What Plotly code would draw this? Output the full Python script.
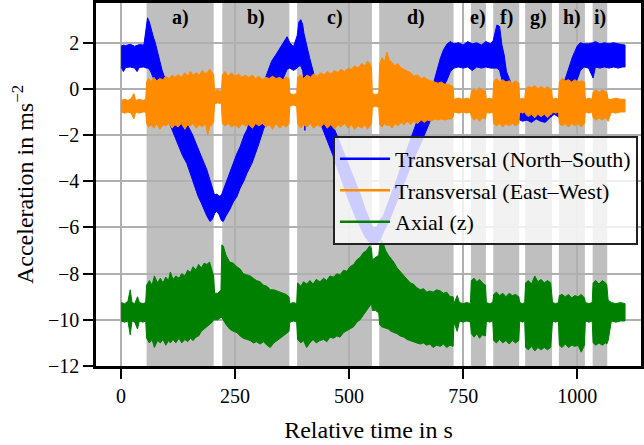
import plotly.graph_objects as go

# ---------------- data ----------------
SEGMENT_LABELS = ["a)", "b)", "c)", "d)", "e)", "f)", "g)", "h)", "i)"]
SEGMENT_START = [56, 222, 386, 566, 767, 816, 886, 960, 1034]
SEGMENT_END = [203, 369, 550, 729, 800, 873, 945, 1017, 1066]

SERIES_NAMES = ["Transversal (North\u2013South)", "Transversal (East\u2013West)", "Axial (z)"]
SERIES_COLORS = ["#0000ff", "#ff8c00", "#008000"]

# envelopes of the dense signals: (time s, lower, upper) in m/s^2
NS_ENV = [
    (0, 0.95, 1.85), (5, 0.75, 1.9), (10, 0.92, 1.88), (20, 0.95, 1.93), (30, 0.9, 1.85),
    (35, 0.75, 1.9), (40, 0.93, 1.92), (50, 0.95, 1.9), (55, 0.9, 2.6), (58, 0.9, 3.08),
    (62, 0.85, 2.9), (66, 0.7, 2.55), (70, 0.5, 2.3), (75, 0.25, 2.0), (80, 0.0, 1.6),
    (85, -0.3, 1.2), (90, -0.6, 0.8), (100, -1.2, 0.25), (111, -1.77, -0.25), (120, -2.2, -0.6),
    (127, -2.5, -0.85), (135, -2.9, -1.15), (144, -3.22, -1.45), (151, -3.6, -1.77), (157, -4.0, -2.0),
    (163, -4.3, -2.3), (169, -4.66, -2.6), (176, -4.95, -2.95), (182, -5.2, -3.22), (188, -5.5, -3.5),
    (195, -5.74, -3.95), (200, -5.65, -4.3), (205, -5.4, -4.6), (210, -5.3, -4.55), (215, -5.45, -4.65),
    (220, -5.7, -4.6), (224, -5.74, -4.4), (230, -5.5, -4.05), (239, -5.2, -3.6), (246, -4.9, -3.22),
    (254, -4.66, -2.8), (261, -4.3, -2.5), (270, -3.95, -2.0), (276, -3.65, -1.77), (287, -3.22, -1.1),
    (300, -2.5, -0.4), (312, -1.77, 0.2), (320, -1.3, 0.7), (330, -0.8, 1.2), (340, -0.3, 1.5),
    (350, 0.2, 1.8), (358, 0.6, 2.05), (364, 0.85, 2.26), (370, 0.9, 2.0), (378, 0.8, 1.83),
    (386, 0.9, 2.3), (390, 1.0, 2.9), (394, 1.0, 3.0), (398, 0.8, 2.8), (401, 0.4, 2.4),
    (403, -1.8, 2.2), (405, 0.2, 2.0), (408, 0.0, 1.8), (414, -0.3, 1.3), (420, -0.6, 0.8),
    (430, -1.0, 0.1), (436, -1.43, -0.3), (445, -1.9, -0.75), (455, -2.4, -1.2), (465, -2.9, -1.6),
    (475, -3.5, -2.1), (485, -4.0, -2.6), (495, -4.6, -3.1), (505, -5.1, -3.6), (515, -5.6, -4.1),
    (525, -6.0, -4.6), (535, -6.4, -5.2), (545, -6.65, -5.7), (552, -6.7, -6.0), (560, -6.7, -6.0),
    (567, -6.6, -5.7), (575, -6.2, -5.5), (590, -5.6, -4.7), (605, -4.9, -3.9), (620, -4.1, -3.0),
    (630, -3.6, -2.42), (640, -3.1, -1.9), (649, -2.7, -1.41), (656, -2.42, -1.0), (665, -2.0, -0.6),
    (678, -1.41, 0.0), (684, -1.1, 0.17), (692, -0.7, 0.75), (700, -0.3, 1.33), (707, 0.1, 1.7),
    (715, 0.4, 1.95), (722, 0.75, 2.05), (730, 0.9, 1.95), (740, 0.95, 2.0), (750, 0.9, 1.9),
    (760, 0.95, 2.05), (770, 0.8, 1.95), (780, 0.95, 2.0), (790, 0.9, 1.9), (800, 0.95, 2.05),
    (810, 0.9, 1.95), (816, 0.9, 2.1), (820, 0.9, 2.5), (824, 0.9, 2.77), (830, 0.8, 2.7),
    (835, 0.5, 1.9), (840, 0.0, 1.47), (845, -0.4, 0.75), (852, -0.8, 0.4), (860, -1.1, 0.0),
    (870, -1.3, -0.4), (880, -1.4, -0.6), (890, -1.35, -0.6), (900, -1.45, -0.7), (910, -1.3, -0.65),
    (920, -1.4, -0.6), (930, -1.45, -0.7), (940, -1.25, -0.6), (950, -1.1, -0.55), (958, -1.2, -0.5),
    (965, -1.3, -0.1), (972, -1.0, 0.3), (980, -0.6, 0.8), (990, -0.1, 1.4), (1000, 0.4, 1.85),
    (1007, 0.8, 2.0), (1015, 0.95, 1.95), (1025, 0.9, 1.95), (1035, 0.47, 2.0), (1040, 0.95, 2.05),
    (1050, 0.9, 1.95), (1060, 0.95, 2.0), (1070, 0.9, 1.95), (1080, 0.95, 2.0), (1090, 0.9, 1.95),
    (1100, 0.95, 1.9), (1105, 0.95, 1.9),
]

EW_ENV = [
    (0, -1.0, -0.5), (8, -1.05, -0.45), (15, -1.0, -0.5), (22, -1.05, -0.42), (28, -1.3, -0.2),
    (32, -1.0, -0.5), (40, -1.05, -0.45), (48, -1.0, -0.5), (54, -1.0, -0.45),
    (56, -1.5, 0.3), (60, -1.65, 0.45), (66, -1.55, 0.3), (72, -1.7, 0.5), (78, -1.5, 0.35),
    (85, -1.75, 0.45), (92, -1.55, 0.4), (98, -1.6, 0.55), (105, -1.5, 0.45), (112, -1.7, 0.6),
    (118, -1.55, 0.5), (125, -1.65, 0.62), (132, -1.5, 0.5), (140, -1.75, 0.7), (146, -1.55, 0.55),
    (152, -1.6, 0.75), (158, -1.5, 0.6), (165, -1.7, 0.7), (172, -1.55, 0.6), (178, -1.65, 0.8),
    (185, -1.5, 0.65), (190, -2.0, 0.75), (195, -1.6, 0.85), (200, -1.55, 0.7), (203, -1.4, 0.6),
    (205, -0.65, -0.1), (212, -0.6, -0.05), (220, -0.65, -0.1),
    (222, -1.5, 0.6), (228, -1.6, 0.75), (235, -1.5, 0.55), (242, -1.65, 0.7), (250, -1.55, 0.55),
    (258, -1.7, 0.65), (265, -1.5, 0.5), (272, -1.6, 0.6), (280, -1.55, 0.5), (288, -1.7, 0.6),
    (295, -1.5, 0.45), (302, -1.6, 0.55), (310, -1.5, 0.4), (318, -1.65, 0.5), (325, -1.55, 0.45),
    (332, -1.75, 0.55), (340, -1.5, 0.45), (348, -1.7, 0.5), (355, -1.55, 0.4), (362, -1.65, 0.5),
    (368, -1.5, 0.45),
    (370, -0.75, -0.2), (378, -0.7, -0.25), (385, -0.75, -0.2),
    (387, -1.5, 0.5), (394, -1.7, 0.6), (400, -1.55, 0.45), (408, -1.65, 0.6), (415, -1.5, 0.5),
    (422, -1.7, 0.65), (430, -1.55, 0.55), (438, -1.65, 0.7), (445, -1.5, 0.6), (452, -1.7, 0.75),
    (460, -1.55, 0.65), (468, -1.75, 0.8), (475, -1.55, 0.7), (482, -1.65, 0.85), (490, -1.5, 0.75),
    (498, -1.7, 0.9), (505, -1.55, 0.85), (512, -1.75, 1.0), (520, -1.6, 0.9), (527, -1.7, 1.1),
    (535, -1.55, 1.0), (540, -1.75, 1.2), (546, -1.6, 1.1), (549, -1.5, 0.9),
    (551, -0.8, -0.2), (558, -0.75, -0.25), (565, -0.8, -0.2),
    (567, -1.55, 1.1), (572, -1.65, 1.35), (578, -1.5, 1.2), (583, -1.6, 1.6), (588, -1.55, 1.25),
    (594, -1.7, 1.15), (600, -1.5, 1.0), (607, -1.6, 1.1), (614, -1.45, 0.9), (620, -1.55, 0.85),
    (628, -1.4, 0.75), (635, -1.55, 0.7), (642, -1.4, 0.55), (650, -1.5, 0.6), (658, -1.35, 0.45),
    (665, -1.45, 0.5), (672, -1.35, 0.4), (680, -1.4, 0.35), (688, -1.3, 0.3), (695, -1.35, 0.25),
    (702, -1.3, 0.3), (710, -1.35, 0.2), (718, -1.3, 0.2), (725, -1.3, 0.15), (728, -1.2, 0.1),
    (730, -1.0, -0.45), (740, -1.05, -0.4), (750, -1.0, -0.45), (758, -1.05, -0.4), (766, -1.0, -0.45),
    (768, -1.2, -0.1), (774, -1.35, 0.0), (780, -1.25, -0.1), (786, -1.4, 0.05), (792, -1.25, -0.05),
    (799, -1.3, -0.1),
    (801, -1.0, -0.45), (808, -1.05, -0.4), (815, -1.0, -0.45),
    (817, -1.5, 0.3), (823, -1.6, 0.45), (830, -1.5, 0.3), (837, -1.65, 0.4), (844, -1.5, 0.3),
    (851, -1.6, 0.35), (858, -1.5, 0.25), (865, -1.6, 0.35), (872, -1.5, 0.25),
    (874, -1.0, -0.45), (880, -1.05, -0.4), (885, -1.0, -0.45),
    (887, -1.1, 0.0), (893, -1.2, 0.1), (900, -1.1, 0.05), (907, -1.25, 0.15), (914, -1.1, 0.0),
    (921, -1.2, 0.1), (928, -1.1, 0.0), (935, -1.25, 0.1), (942, -1.1, 0.0), (944, -1.1, -0.05),
    (946, -1.0, -0.45), (953, -1.05, -0.4), (959, -1.0, -0.45),
    (961, -1.5, 0.3), (967, -1.6, 0.45), (974, -1.5, 0.35), (981, -1.65, 0.4), (988, -1.5, 0.3),
    (995, -1.6, 0.4), (1002, -1.5, 0.3), (1009, -1.65, 0.35), (1016, -1.5, 0.3),
    (1018, -1.0, -0.45), (1026, -1.05, -0.4), (1033, -1.0, -0.45),
    (1035, -1.25, -0.15), (1041, -1.35, -0.05), (1048, -1.25, -0.15), (1055, -1.35, -0.05),
    (1062, -1.25, -0.1), (1065, -1.3, -0.15),
    (1068, -1.4, -0.45), (1075, -1.0, -0.45), (1085, -1.05, -0.4), (1095, -1.0, -0.45), (1105, -1.0, -0.45),
]

AX_ENV = [
    (0, -10.05, -9.25), (8, -10.1, -9.3), (15, -10.05, -9.2), (20, -10.65, -8.7), (24, -10.05, -9.25),
    (30, -10.1, -9.3), (36, -10.4, -9.0), (40, -10.05, -9.25), (48, -10.1, -9.3), (54, -10.05, -9.25),
    (56, -10.8, -8.5), (62, -11.0, -8.3), (68, -10.85, -8.5), (73, -11.2, -8.1), (80, -10.9, -8.4),
    (86, -11.0, -8.2), (92, -10.85, -8.4), (98, -11.1, -8.15), (104, -10.9, -8.3), (108, -11.0, -7.93),
    (114, -10.85, -8.25), (120, -11.0, -8.1), (127, -10.8, -8.2), (133, -11.0, -8.0), (140, -10.85, -8.1),
    (146, -10.95, -7.85), (152, -10.8, -7.95), (158, -10.9, -7.7), (164, -10.75, -7.85), (170, -10.7, -7.6),
    (176, -10.5, -7.75), (182, -10.4, -7.55), (188, -10.3, -7.6), (194, -10.2, -7.5), (200, -10.1, -7.9),
    (203, -10.0, -8.1),
    (205, -10.0, -8.85), (212, -10.0, -8.85), (219, -9.9, -8.7),
    (221, -9.9, -6.75), (224, -10.0, -6.8), (230, -10.2, -7.2), (238, -10.4, -7.5), (246, -10.5, -7.55),
    (254, -10.55, -7.7), (261, -10.7, -7.8), (268, -10.8, -8.0), (276, -10.85, -8.05), (283, -10.9, -8.1),
    (290, -11.0, -8.2), (297, -10.95, -8.3), (305, -11.05, -8.35), (312, -10.95, -8.5), (320, -11.1, -8.55),
    (327, -11.2, -8.7), (335, -11.0, -8.7), (342, -10.9, -8.75), (350, -10.8, -8.8), (356, -10.7, -8.85),
    (362, -10.6, -8.9), (368, -10.5, -9.0),
    (370, -10.1, -9.3), (378, -10.05, -9.25), (385, -10.1, -9.3),
    (387, -10.85, -8.4), (394, -11.0, -8.55), (400, -10.9, -8.35), (407, -11.2, -8.45), (414, -11.0, -8.3),
    (421, -10.85, -8.45), (428, -11.0, -8.25), (436, -10.9, -8.35), (444, -10.85, -8.2), (451, -10.95, -8.3),
    (458, -10.75, -8.1), (466, -10.8, -8.15), (473, -10.7, -8.0), (480, -10.75, -8.05), (488, -10.55, -7.85),
    (495, -10.5, -7.9), (502, -10.4, -7.7), (510, -10.3, -7.6), (517, -10.1, -7.4), (524, -10.0, -7.3),
    (531, -9.8, -7.1), (538, -9.6, -7.0), (545, -9.4, -6.8), (549, -9.3, -6.9),
    (551, -9.6, -7.4), (558, -9.6, -7.3), (565, -9.7, -7.2),
    (567, -10.2, -6.8), (571, -10.3, -6.55), (575, -10.3, -6.7), (580, -10.35, -7.0), (586, -10.4, -7.2),
    (592, -10.5, -7.35), (598, -10.55, -7.5), (605, -10.6, -7.75), (612, -10.7, -7.9), (620, -10.75, -8.1),
    (627, -10.85, -8.25), (634, -10.9, -8.4), (641, -10.95, -8.45), (648, -11.0, -8.6), (656, -11.05, -8.7),
    (663, -11.0, -8.65), (670, -11.1, -8.8), (677, -11.05, -8.75), (684, -11.2, -8.8), (692, -11.1, -8.7),
    (700, -11.15, -8.75), (707, -11.05, -8.85), (714, -11.2, -8.8), (721, -11.1, -9.0), (728, -11.15, -9.0),
    (730, -10.1, -9.3), (737, -10.5, -8.95), (742, -10.05, -9.25), (750, -10.1, -9.3), (758, -10.05, -9.25),
    (766, -10.1, -9.3),
    (768, -10.6, -8.3), (774, -10.75, -8.2), (780, -10.6, -8.35), (786, -10.8, -8.25), (792, -10.65, -8.4),
    (799, -10.7, -8.5),
    (801, -10.05, -9.25), (808, -10.1, -9.3), (815, -10.05, -9.25),
    (817, -10.9, -8.9), (823, -11.0, -8.8), (830, -10.85, -8.95), (837, -11.0, -8.85), (844, -10.9, -9.0),
    (851, -11.05, -8.85), (858, -10.9, -8.95), (865, -11.0, -8.9), (872, -10.9, -9.0),
    (874, -10.05, -9.25), (880, -10.1, -9.3), (885, -10.05, -9.25),
    (887, -11.2, -8.4), (893, -11.3, -8.3), (900, -11.15, -8.45), (907, -11.35, -8.1), (914, -11.2, -8.35),
    (921, -11.3, -8.25), (928, -11.2, -8.4), (935, -11.3, -8.3), (942, -11.2, -8.4),
    (946, -10.05, -9.25), (953, -10.1, -9.3), (959, -10.05, -9.25),
    (961, -11.1, -8.95), (967, -11.2, -8.9), (974, -11.05, -9.0), (981, -11.2, -8.9), (988, -11.1, -9.05),
    (995, -11.15, -8.95), (1002, -11.1, -9.0), (1009, -11.4, -8.9), (1016, -11.1, -9.05),
    (1018, -10.05, -9.25), (1026, -10.1, -9.3), (1033, -10.05, -9.25),
    (1035, -11.0, -8.4), (1041, -11.1, -8.3), (1048, -11.0, -8.45), (1055, -11.1, -8.3), (1062, -11.0, -8.4),
    (1065, -11.05, -8.5),
    (1068, -10.9, -9.15), (1075, -10.05, -9.25), (1085, -10.1, -9.3), (1095, -10.05, -9.25), (1105, -10.05, -9.3),
]

X_TICKS = [0, 250, 500, 750, 1000]
Y_TICKS = [-12, -10, -8, -6, -4, -2, 0, 2]

FONT = "'Liberation Serif', 'Times New Roman', Times, 'DejaVu Serif', serif"

fig = go.Figure()

for name, color, env in zip(SERIES_NAMES, SERIES_COLORS, [NS_ENV, EW_ENV, AX_ENV]):
    t = [r[0] for r in env]
    lo = [r[1] for r in env]
    hi = [r[2] for r in env]
    fig.add_trace(go.Scatter(
        x=t + t[::-1], y=hi + lo[::-1], mode="lines", fill="toself",
        fillcolor=color, line=dict(color=color, width=1), showlegend=False,
        hoverinfo="skip",
    ))

# legend entries drawn as plain lines
for name, color in zip(SERIES_NAMES, SERIES_COLORS):
    fig.add_trace(go.Scatter(x=[None], y=[None], mode="lines", name=name,
                             line=dict(color=color, width=2.5)))

shapes = []
for s, e in zip(SEGMENT_START, SEGMENT_END):
    shapes.append(dict(type="rect", xref="x", yref="paper", x0=s, x1=e, y0=0, y1=1,
                       fillcolor="#bfbfbf", line=dict(width=0), layer="below"))

annotations = []
for lab, s, e in zip(SEGMENT_LABELS, SEGMENT_START, SEGMENT_END):
    annotations.append(dict(x=(s + e) / 2, y=3.1, xref="x", yref="y", text="<b>%s</b>" % lab,
                            showarrow=False, font=dict(family=FONT, size=20, color="black"),
                            xanchor="center", yanchor="middle"))

fig.update_layout(
    width=644, height=445,
    margin=dict(l=96, r=3, t=3, b=79, autoexpand=False),
    paper_bgcolor="white", plot_bgcolor="white",
    font=dict(family=FONT, size=20, color="black"),
    shapes=shapes, annotations=annotations,
    showlegend=True,
    legend=dict(x=0.9945, y=0.634, xanchor="right", yanchor="top",
                bgcolor="rgba(255,255,255,0.8)", bordercolor="#222222", borderwidth=2,
                font=dict(family=FONT, size=22, color="black"), itemwidth=50,
                tracegroupgap=0),
)

fig.update_xaxes(
    range=[-55, 1140], tickvals=X_TICKS, ticktext=[str(v) for v in X_TICKS],
    showgrid=True, gridcolor="#b0b0b0", gridwidth=1.6, zeroline=False,
    showline=True, linecolor="black", linewidth=2.5, mirror=True,
    ticks="outside", ticklen=10, tickwidth=2, tickcolor="black",
    tickfont=dict(family=FONT, size=20),
    title=dict(text="Relative time in s", font=dict(family=FONT, size=24), standoff=16),
)
fig.update_yaxes(
    range=[-12, 3.72], tickvals=Y_TICKS, ticktext=[("\u2212%d" % -v) if v < 0 else str(v) for v in Y_TICKS],
    showgrid=True, gridcolor="#b0b0b0", gridwidth=1.6, zeroline=False,
    showline=True, linecolor="black", linewidth=2.5, mirror=True,
    ticks="outside", ticklen=10, tickwidth=2, tickcolor="black",
    tickfont=dict(family=FONT, size=20),
    title=dict(text="Acceleration in ms<sup>\u22122</sup>", font=dict(family=FONT, size=24), standoff=8),
)

fig.write_html("out.html")
